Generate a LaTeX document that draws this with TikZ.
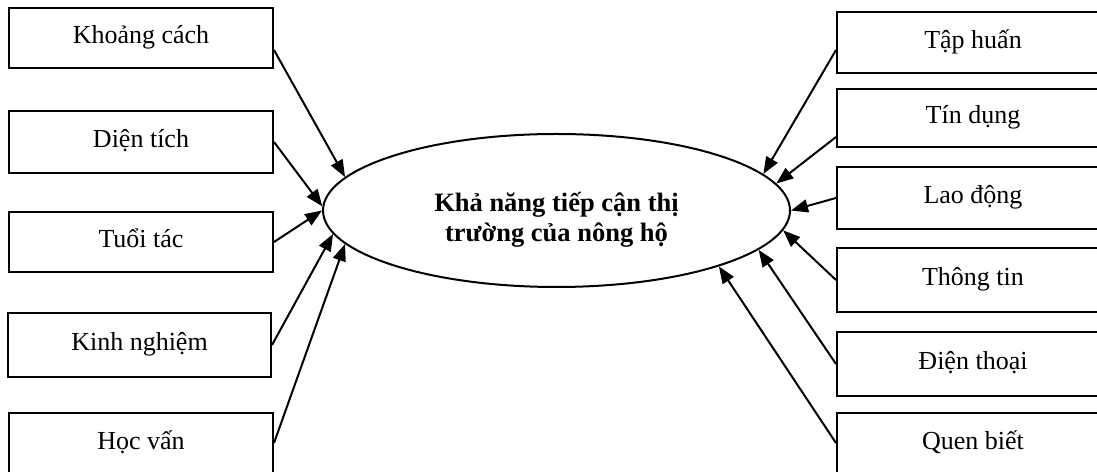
\documentclass[tikz,border=0pt]{standalone}
\usepackage{fontspec}
\setmainfont{Liberation Serif}
\usetikzlibrary{shapes.geometric,arrows.meta,calc}
\begin{document}
\begin{tikzpicture}[x=1pt,y=1pt,
  lbox/.style={draw,line width=2pt,rectangle,minimum width=264pt,inner sep=0pt,text height=18pt,text depth=6pt,font=\fontsize{26}{30}\selectfont},
  rbox/.style={lbox,minimum width=272pt},
  arr/.style={line width=2pt,-{Triangle[length=17pt,width=13pt]}},
  oval/.style={draw,ellipse,line width=2pt,minimum width=467pt,minimum height=153pt,inner sep=0pt},
  title/.style={font=\fontsize{26.5}{30}\selectfont\bfseries,align=center,inner sep=0pt}
]
\useasboundingbox (0,0) rectangle (1097,471);
\clip (0,0) rectangle (1097,471);
% left boxes
\node[lbox,minimum height=60pt] (kc) at (141,433) {Khoảng cách};
\node[lbox,minimum height=62pt] (dt) at (141,329) {Diện tích};
\node[lbox,minimum height=60pt] (tt) at (141,229) {Tuổi tác};
\node[lbox,minimum height=64pt,minimum width=263pt] (kn) at (139.5,126) {Kinh nghiệm};
\node[lbox,minimum height=60pt] (hv) at (141,28) {Học vấn};
% right boxes
\node[rbox,minimum height=61pt] (th) at (973,428.5) {Tập huấn};
\node[rbox,minimum height=58pt] (td) at (973,353) {Tín dụng};
\node[rbox,minimum height=62pt] (ld) at (973,273) {Lao động};
\node[rbox,minimum height=64pt] (tti) at (973,191) {Thông tin};
\node[rbox,minimum height=64pt] (dth) at (973,107) {Điện thoại};
\node[rbox,minimum height=60pt] (qb) at (973,28) {Quen biết};
% centre
\node[oval] (e) at (556.5,260.5) {};
\node[title] (et) at (556.5,251) {Khả năng tiếp cận thị\\trường của nông hộ};
% arrows
\draw[arr] ($(kc.east)+(0,-12)$) -- (e.171);
\draw[arr] (dt.east) -- (e.179);
\draw[arr] (tt.east) -- (e.180.6);
\draw[arr] (kn.east) -- (e.186.3);
\draw[arr] (hv.east) -- (e.189.7);
\draw[arr] ($(th.west)+(0,-7.5)$) -- (e.10.8);
\draw[arr] ($(td.west)+(0,-19)$) -- (e.7.9);
\draw[arr] (ld.west) -- (e.east);
\draw[arr] (tti.west) -- (e.355);
\draw[arr] (dth.west) -- (e.349.5);
\draw[arr] (qb.west) -- (e.341.6);
\end{tikzpicture}
\end{document}
